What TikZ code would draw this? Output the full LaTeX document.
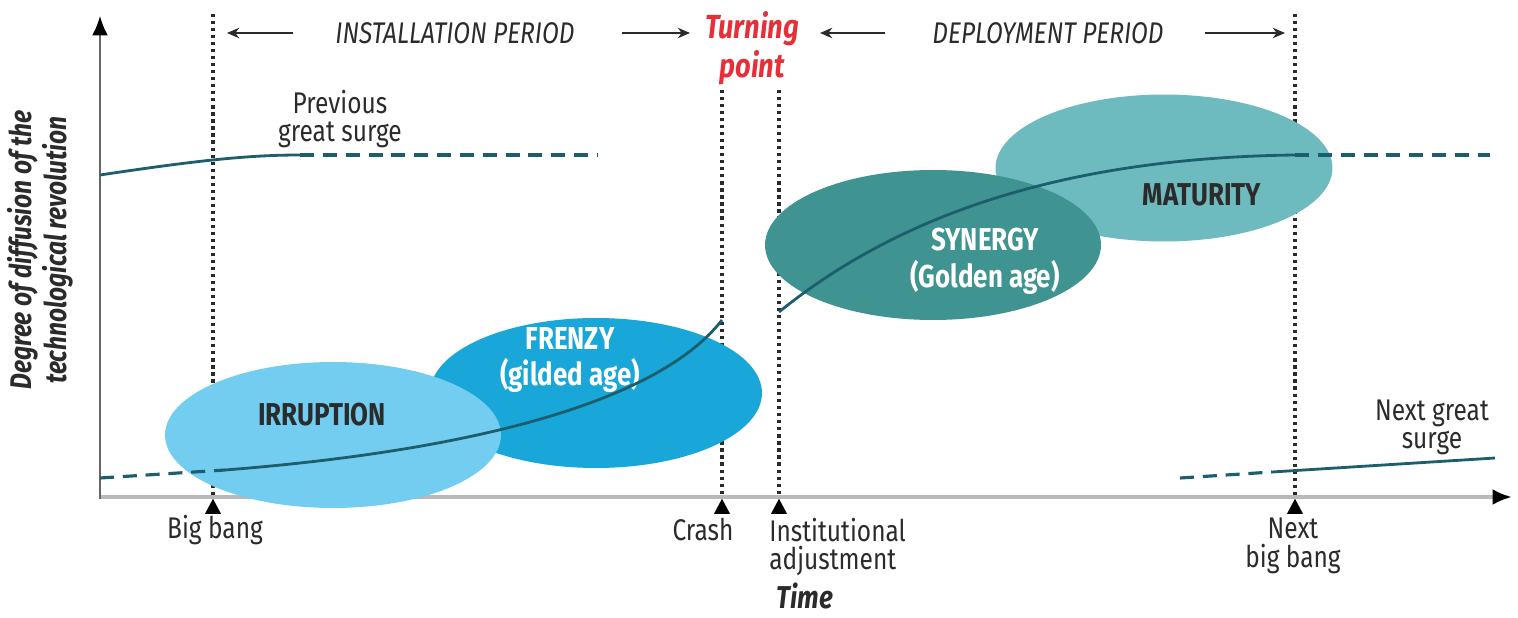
\documentclass[tikz,border=0pt]{standalone}
\usepackage{fontspec}
\setmainfont{Fira Sans}[FakeStretch=0.82]
\usetikzlibrary{arrows.meta,shapes.geometric}
\definecolor{irrc}{HTML}{73CDF0}
\definecolor{frzc}{HTML}{19A6D9}
\definecolor{sync}{HTML}{3F9390}
\definecolor{matc}{HTML}{6EBBBF}
\definecolor{curvec}{HTML}{1D5E6E}
\definecolor{redc}{HTML}{E5303A}
\definecolor{txtc}{HTML}{2B2B2B}
\begin{document}
\begin{tikzpicture}[x=0.02cm,y=-0.02cm,
  lbl/.style={font=\fontsize{17}{16}\selectfont, text=txtc, align=center, inner sep=0},
  period/.style={font=\fontsize{17}{20}\selectfont\itshape, text=txtc, inner sep=0},
  phase/.style={ellipse, inner sep=0, draw=none},
  phasetxt/.style={font=\fontsize{18}{21}\selectfont\bfseries, align=center, inner sep=0},
  vline/.style={line width=2pt, dash pattern=on 1.8pt off 2.2pt, txtc},
  parrow/.style={line width=0.8pt, txtc, -{Stealth[length=7pt,width=6pt]}},
  curve/.style={line width=1.6pt, curvec},
  dcurve/.style={line width=1.8pt, curvec, dash pattern=on 8pt off 5pt},
  tick/.style={fill=black}
]
\useasboundingbox (0,0) rectangle (1518,618);

% axes
\coordinate (O) at (100,497);
\coordinate (ytop) at (100,16);
\coordinate (xend) at (1512,497);
\draw[line width=2pt, gray!55, -{Latex[length=11pt,width=9pt,black]}] (O) -- (xend);
\draw[line width=1pt, gray!80!black, -{Latex[length=11pt,width=9pt,black]}] (100,499) -- (ytop);

% time markers
\coordinate (bb) at (213,497);
\coordinate (cr) at (722,497);
\coordinate (ia) at (779,497);
\coordinate (nb) at (1295,497);
\coordinate (bbt) at (213,14);
\coordinate (crt) at (722,90);
\coordinate (iat) at (779,90);
\coordinate (nbt) at (1295,14);
\draw[vline] (bbt) -- (bb);
\draw[vline] (crt) -- (cr);
\draw[vline] (iat) -- (ia);
\draw[vline] (nbt) -- (nb);

% phase ellipses
\node[phase, fill=frzc, minimum width=6.64cm, minimum height=3.0cm] (frenzy) at (596,393) {};
\node[phase, fill=irrc, minimum width=6.72cm, minimum height=2.92cm] (irruption) at (333,435) {};
\node[phase, fill=matc, minimum width=6.74cm, minimum height=2.94cm] (maturity) at (1164,168) {};
\node[phase, fill=sync, minimum width=6.72cm, minimum height=3.0cm] (synergy) at (933,245) {};

\node[phasetxt, text=txtc] (irrt) at (322,415) {IRRUPTION};
\node[phasetxt, text=white] (frzt) at (570,360) {FRENZY\\(gilded age)};
\node[phasetxt, text=white] (synt) at (985,261) {SYNERGY\\(Golden age)};
\node[phasetxt, text=txtc] (matt) at (1202,195) {MATURITY};

% curves
\coordinate (c0) at (100,478);
\coordinate (c1) at (225,470);
\coordinate (c2) at (722,320);
\coordinate (d0) at (779,312);
\coordinate (d1) at (1295,155);
\coordinate (d2) at (1490,155);
\coordinate (p0) at (100,175);
\coordinate (p1) at (300,155);
\coordinate (p2) at (597,155);
\coordinate (n0) at (1180,478);
\coordinate (n1) at (1272,472);
\coordinate (n2) at (1495,458);

\draw[dcurve] (c0) -- (c1);
\draw[curve] (c1) .. controls (480,450) and (660,400) .. (c2);
\draw[curve] (d0) .. controls (890,222) and (1050,158) .. (d1);
\draw[dcurve] (d1) -- (d2);
\draw[curve] (p0) .. controls (200,160) and (250,155) .. (p1);
\draw[dcurve] (p1) -- (p2);
\draw[dcurve] (n0) -- (n1);
\draw[curve] (n1) -- (n2);

% triangles
\foreach \c in {bb,cr,ia,nb}{
  \fill[tick] ([yshift=-1pt]\c) -- ++(-8,15) -- ++(16,0) -- cycle;
}

% bottom labels
\node[lbl] (bbl) at (215,530) {Big bang};
\node[lbl] (crl) at (703,530) {Crash};
\node[lbl, anchor=north west, align=left] (ial) at (769,518) {Institutional\\adjustment};
\node[lbl, anchor=north] (nbl) at (1293,518) {Next\\big bang};
\node[font=\fontsize{18}{21}\selectfont\bfseries\itshape, text=txtc, inner sep=0] (timel) at (805,596) {Time};

% other labels
\node[lbl] (prevl) at (340,119) {Previous\\great surge};
\node[lbl] (nextl) at (1432,427) {Next great\\surge};
\node[font=\fontsize{17}{20}\selectfont\bfseries\itshape, text=txtc, align=center, rotate=90, inner sep=0] (yl) at (40,250) {Degree of diffusion of the\\technological revolution};

% top periods
\node[period] (inst) at (455,33) {INSTALLATION PERIOD};
\node[period] (depl) at (1048,33) {DEPLOYMENT PERIOD};
\node[font=\fontsize{19}{22}\selectfont\bfseries\itshape, text=redc, align=center, inner sep=0] (turn) at (752,48) {Turning\\point};
\coordinate (a1s) at (293,33);
\coordinate (a1e) at (227,33);
\coordinate (a2s) at (622,33);
\coordinate (a2e) at (690,33);
\coordinate (a3s) at (885,33);
\coordinate (a3e) at (820,33);
\coordinate (a4s) at (1205,33);
\coordinate (a4e) at (1285,33);
\draw[parrow] (a1s) -- (a1e);
\draw[parrow] (a2s) -- (a2e);
\draw[parrow] (a3s) -- (a3e);
\draw[parrow] (a4s) -- (a4e);
\end{tikzpicture}
\end{document}
